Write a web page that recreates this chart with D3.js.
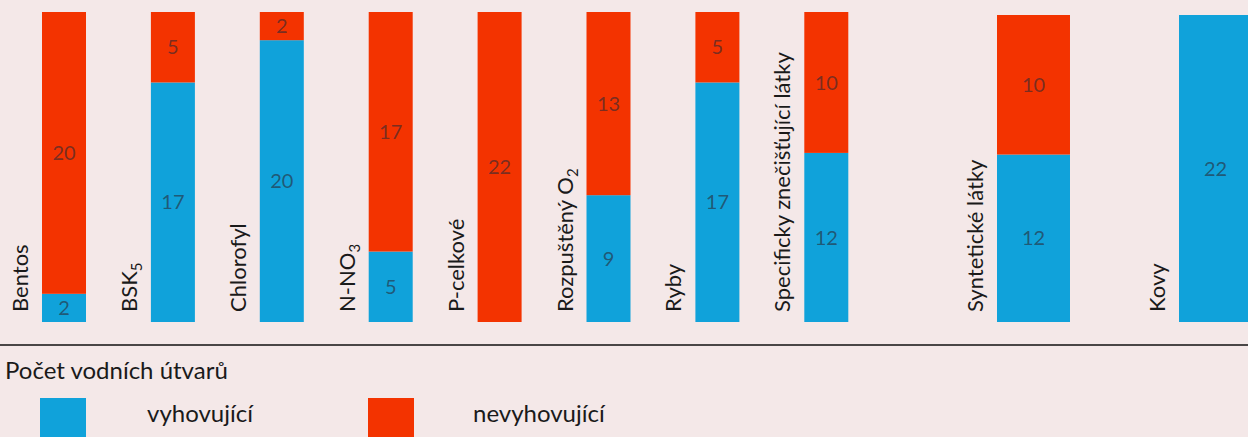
<!DOCTYPE html>
<html lang="cs">
<head>
<meta charset="utf-8">
<script src="https://cdn.jsdelivr.net/npm/d3@7"></script>
<style>
  html, body { margin: 0; padding: 0; background: #f4e8e8; }
  svg { display: block; }
  text { font-family: Lato, "Open Sans", sans-serif; }
</style>
</head>
<body>
<svg id="chart" width="1248" height="437"></svg>
<script>
// Hodnocení ukazatelů – počet vodních útvarů (vyhovující / nevyhovující)
const categoriesA = ["Bentos", "BSK5", "Chlorofyl", "N-NO3", "P-celkové", "Rozpuštěný O2", "Ryby", "Specificky znečišťující látky"];
const passA = [2, 17, 20, 5, 0, 9, 17, 12];
const failA = [20, 5, 2, 17, 22, 13, 5, 10];

const categoriesB = ["Syntetické látky", "Kovy"];
const passB = [12, 22];
const failB = [10, 0];

// label text with optional subscript part
const labelParts = {
  "BSK5": ["BSK", "5"],
  "N-NO3": ["N-NO", "3"],
  "Rozpuštěný O2": ["Rozpuštěný O", "2"]
};

const legendTitle = "Počet vodních útvarů";
const seriesNames = ["vyhovující", "nevyhovující"];
const colors = { pass: "#10a2da", fail: "#f33300" };
const maxValue = 22;

const svg = d3.select("#chart");
const W = 1248, H = 437;

function drawGroup(cats, pass, fail, xRange, yRange, padInner) {
  const x = d3.scaleBand().domain(cats).range(xRange).paddingInner(padInner).paddingOuter(0);
  const y = d3.scaleLinear().domain([0, maxValue]).range(yRange);
  const rows = cats.map((c, i) => ({ cat: c, pass: pass[i], fail: fail[i] }));
  const stack = d3.stack().keys(["pass", "fail"])(rows);

  const g = svg.append("g");
  stack.forEach(layer => {
    const key = layer.key;
    const lg = g.append("g").attr("fill", colors[key]);
    lg.selectAll("rect")
      .data(layer.filter(d => d[1] > d[0]))
      .join("rect")
      .attr("x", d => x(d.data.cat))
      .attr("width", x.bandwidth())
      .attr("y", d => y(d[1]))
      .attr("height", d => y(d[0]) - y(d[1]));

    g.append("g").selectAll("text")
      .data(layer.filter(d => d[1] > d[0]))
      .join("text")
      .attr("x", d => x(d.data.cat) + x.bandwidth() / 2)
      .attr("y", d => (y(d[0]) + y(d[1])) / 2)
      .attr("text-anchor", "middle")
      .attr("dy", "0.36em")
      .attr("font-size", 20)
      .attr("fill", "#2a2a35")
      .attr("fill-opacity", 0.62)
      .text(d => d[1] - d[0]);
  });

  // rotated category labels to the left of each bar
  const lab = g.append("g").selectAll("text")
    .data(cats)
    .join("text")
    .attr("transform", c => `translate(${x(c) - 14},${yRange[0] - 10}) rotate(-90)`)
    .attr("font-size", 22)
    .attr("fill", "#1a1a1a");
  lab.each(function(c) {
    const t = d3.select(this);
    const parts = labelParts[c];
    if (parts) {
      t.append("tspan").text(parts[0]);
      t.append("tspan").attr("font-size", 15).attr("dy", 5).text(parts[1]);
    } else {
      t.text(c);
    }
  });
}

drawGroup(categoriesA, passA, failA, [42, 848.3], [322, 12], 0.596);
drawGroup(categoriesB, passB, failB, [997, 1252], [322, 15], 0.599);

// separator line
svg.append("line")
  .attr("x1", 0).attr("x2", W)
  .attr("y1", 345).attr("y2", 345)
  .attr("stroke", "#111").attr("stroke-width", 1.5);

// legend
svg.append("text")
  .attr("x", 5).attr("y", 379)
  .attr("font-size", 24).attr("fill", "#1a1a1a")
  .text(legendTitle);

const legend = svg.append("g");
const legendItems = [
  { name: seriesNames[0], color: colors.pass, sx: 40, tx: 147 },
  { name: seriesNames[1], color: colors.fail, sx: 368, tx: 473 }
];
legend.selectAll("rect")
  .data(legendItems)
  .join("rect")
  .attr("x", d => d.sx).attr("y", 398)
  .attr("width", 46).attr("height", 46)
  .attr("fill", d => d.color);
legend.selectAll("text")
  .data(legendItems)
  .join("text")
  .attr("x", d => d.tx).attr("y", 422)
  .attr("font-size", 24).attr("fill", "#1a1a1a")
  .text(d => d.name);
</script>
</body>
</html>
